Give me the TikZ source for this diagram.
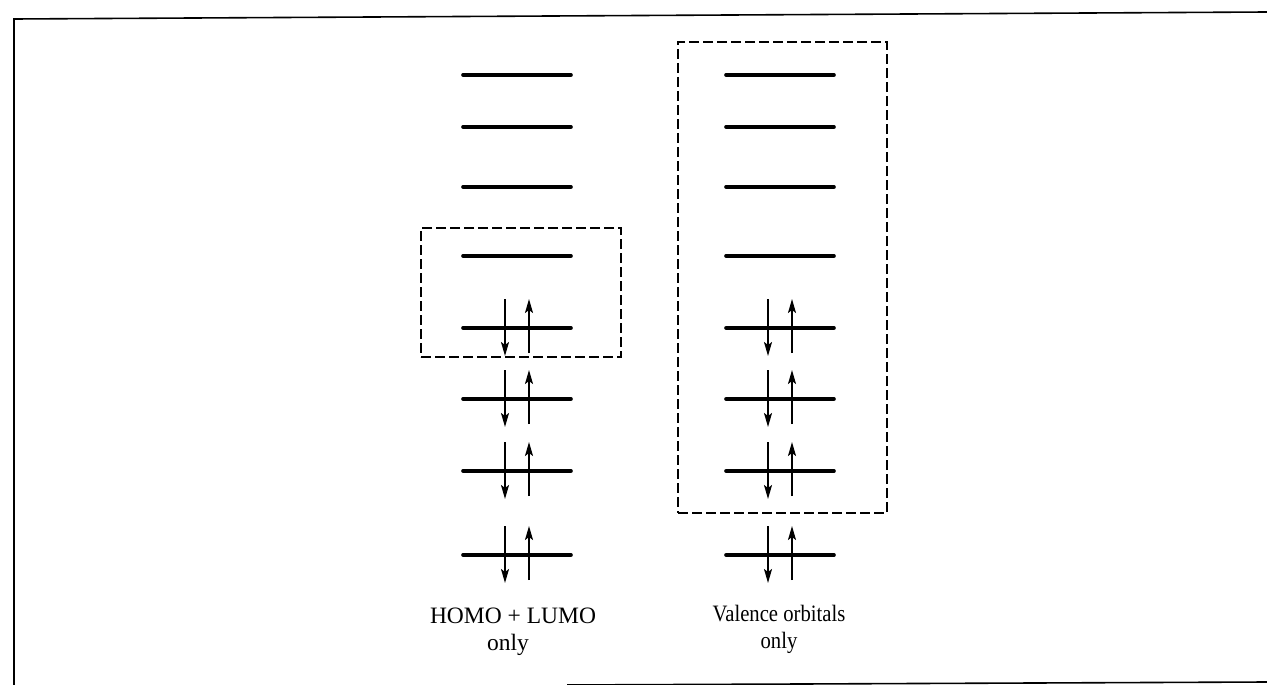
\documentclass[tikz,border=0pt]{standalone}
\usepackage{fontspec}
\setmainfont{Liberation Serif}
\usetikzlibrary{arrows.meta}
\begin{document}
\begin{tikzpicture}[x=1pt,y=-1pt,
  level/.style={line width=3.6pt,line cap=round},
  spin/.style={line width=1.8pt,-{Stealth[length=14pt,width=8pt,inset=3pt]}},
  selbox/.style={draw,line width=1.4pt,dash pattern=on 10pt off 4pt,inner sep=0pt,fill=none},
  lab/.style={font=\fontsize{23.5}{27}\selectfont,align=center,inner sep=0pt,anchor=base}]
\useasboundingbox (0,0) rectangle (1267,685);
% frame
\draw[line width=1.6pt] (14,685) -- (14,19) -- (1267,12);
\draw[line width=1.6pt] (567,685) -- (1267,682);
% levels
\foreach \col/\cx in {L/517,R/780}{
  \foreach \i/\y in {1/75,2/127,3/187,4/256,5/328,6/399,7/471,8/555}{
    \coordinate (\col\i) at (\cx,\y);
    \draw[level] ([xshift=-54pt]\col\i) -- ([xshift=54pt]\col\i);
  }
  \foreach \i in {5,6,7,8}{
    \draw[spin] ([xshift=-12pt,yshift=29pt]\col\i) -- ([xshift=-12pt,yshift=-28pt]\col\i);
    \draw[spin] ([xshift=12pt,yshift=-25pt]\col\i) -- ([xshift=12pt,yshift=29pt]\col\i);
  }
}
% selection boxes
\node[selbox,minimum width=200pt,minimum height=129pt] (boxL) at (521,292.5) {};
\node[selbox,minimum width=209pt,minimum height=471pt] (boxR) at (782.5,277.5) {};
% labels
\node[lab] (labL1) at (513,623) {HOMO + LUMO};
\node[lab] (labL2) at (508,650) {only};
\node[lab,xscale=0.88] (labR1) at (779,621) {Valence orbitals};
\node[lab,xscale=0.88] (labR2) at (779,648) {only};
\end{tikzpicture}
\end{document}
